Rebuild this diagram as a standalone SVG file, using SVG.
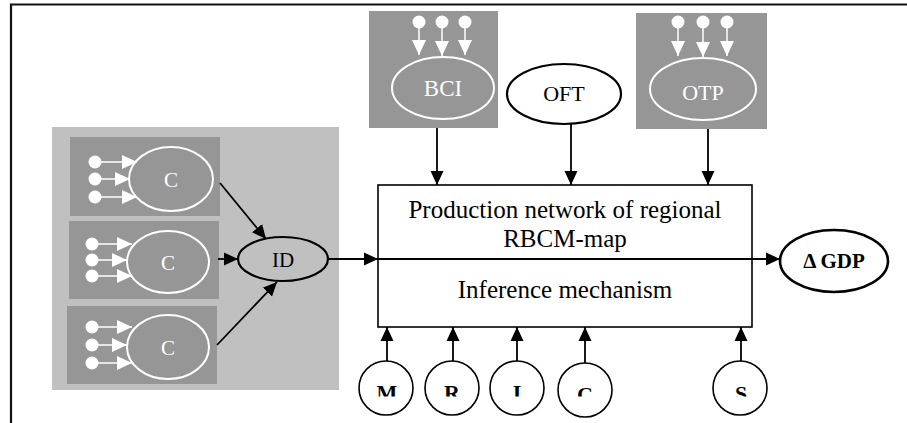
<svg xmlns="http://www.w3.org/2000/svg" width="907" height="423" viewBox="0 0 907 423">
<defs>
<style>
.t{font-family:"Liberation Serif","Times New Roman",serif}
.w{fill:#fff}
.dk{fill:#969696}
.we{fill:none;stroke:#fff;stroke-width:2}
.wl{stroke:#fff;stroke-width:1.5;fill:none}
.bl{stroke:#000;stroke-width:1.8;fill:none}
.be{fill:none;stroke:#000;stroke-width:2.2}
.bc{fill:#fff;stroke:#000;stroke-width:1.6}
</style>
<marker id="ab" markerUnits="userSpaceOnUse" markerWidth="14" markerHeight="14" viewBox="0 0 14 14" refX="14" refY="7" orient="auto"><path d="M0,0.5 L14,7 L0,13.5 z" fill="#000"/></marker>
<marker id="aw" markerUnits="userSpaceOnUse" markerWidth="15" markerHeight="14" viewBox="0 0 15 14" refX="15" refY="7" orient="auto"><path d="M0,0 L15,7 L0,14 z" fill="#fff"/></marker>
<clipPath id="cut"><rect x="340" y="360" width="450" height="36.5"/></clipPath>
</defs>
<rect width="907" height="423" fill="#fff"/>
<g id="frame"><path d="M11,423 V4.5 H907" fill="none" stroke="#111" stroke-width="2.2"/></g>

<g id="panel"><rect x="52" y="127" width="287" height="263" fill="#c0c0c0"/></g>

<g id="c1">
<rect class="dk" x="70" y="137" width="150" height="79"/>
<ellipse class="we" cx="171" cy="179" rx="42" ry="32"/>
<text class="t w" x="171" y="187" font-size="21" text-anchor="middle">C</text>
<circle class="w" cx="95" cy="162" r="6.5"/><circle class="w" cx="95" cy="179" r="6.5"/><circle class="w" cx="95" cy="197" r="6.5"/>
<path class="wl" d="M99,162 H137" marker-end="url(#aw)"/><path class="wl" d="M99,179 H130" marker-end="url(#aw)"/><path class="wl" d="M99,197 H137" marker-end="url(#aw)"/>
</g>
<g id="c2">
<rect class="dk" x="69" y="221" width="150" height="78"/>
<ellipse class="we" cx="168" cy="262" rx="41" ry="31"/>
<text class="t w" x="168" y="270" font-size="21" text-anchor="middle">C</text>
<circle class="w" cx="92" cy="244" r="6.5"/><circle class="w" cx="92" cy="260" r="6.5"/><circle class="w" cx="92" cy="276" r="6.5"/>
<path class="wl" d="M96,244 H132" marker-end="url(#aw)"/><path class="wl" d="M96,260 H127" marker-end="url(#aw)"/><path class="wl" d="M96,276 H132" marker-end="url(#aw)"/>
</g>
<g id="c3">
<rect class="dk" x="67" y="306" width="150" height="78"/>
<ellipse class="we" cx="168" cy="347" rx="41" ry="32"/>
<text class="t w" x="168" y="355" font-size="21" text-anchor="middle">C</text>
<circle class="w" cx="92" cy="327" r="6.5"/><circle class="w" cx="92" cy="345" r="6.5"/><circle class="w" cx="92" cy="363" r="6.5"/>
<path class="wl" d="M96,327 H132" marker-end="url(#aw)"/><path class="wl" d="M96,345 H127" marker-end="url(#aw)"/><path class="wl" d="M96,363 H132" marker-end="url(#aw)"/>
</g>

<g id="id">
<ellipse class="be" cx="283" cy="259" rx="45" ry="22"/>
<text class="t" x="283" y="267" font-size="21" text-anchor="middle">ID</text>
</g>

<g id="bci">
<rect class="dk" x="369" y="11" width="129" height="117"/>
<ellipse class="we" cx="443" cy="88" rx="51" ry="31"/>
<text class="t w" x="443" y="96" font-size="23" text-anchor="middle">BCI</text>
<circle class="w" cx="419" cy="22" r="6.5"/><circle class="w" cx="442" cy="22" r="6.5"/><circle class="w" cx="465" cy="22" r="6.5"/>
<path class="wl" d="M419,26 V55" marker-end="url(#aw)"/><path class="wl" d="M442,26 V56" marker-end="url(#aw)"/><path class="wl" d="M465,26 V55" marker-end="url(#aw)"/>
</g>

<g id="oft">
<ellipse class="be" cx="564" cy="94" rx="57" ry="30"/>
<text class="t" x="564" y="101" font-size="22" text-anchor="middle">OFT</text>
</g>

<g id="otp">
<rect class="dk" x="636" y="13" width="131" height="116"/>
<ellipse class="we" cx="703" cy="89" rx="53" ry="31"/>
<text class="t w" x="703" y="100" font-size="22" text-anchor="middle">OTP</text>
<circle class="w" cx="678" cy="22" r="6.5"/><circle class="w" cx="703" cy="22" r="6.5"/><circle class="w" cx="727" cy="22" r="6.5"/>
<path class="wl" d="M678,26 V56" marker-end="url(#aw)"/><path class="wl" d="M703,26 V57" marker-end="url(#aw)"/><path class="wl" d="M727,26 V56" marker-end="url(#aw)"/>
</g>

<g id="main">
<rect x="378" y="185" width="374" height="142" fill="#fff" stroke="#000" stroke-width="1.6"/>
<text class="t" x="565" y="218" font-size="25" text-anchor="middle">Production network of regional</text>
<text class="t" x="565" y="247" font-size="25" text-anchor="middle">RBCM-map</text>
<text class="t" x="565" y="298" font-size="25" text-anchor="middle">Inference mechanism</text>
</g>

<g id="gdp">
<ellipse cx="834" cy="261" rx="54" ry="31" fill="#fff" stroke="#000" stroke-width="2.6"/>
<text class="t" x="834" y="268" font-size="21" font-weight="bold" text-anchor="middle">Δ GDP</text>
</g>

<g id="inputs">
<circle class="bc" cx="386" cy="388" r="27"/>
<circle class="bc" cx="452" cy="388" r="27"/>
<circle class="bc" cx="517" cy="388" r="27"/>
<circle class="bc" cx="585" cy="390" r="27"/>
<circle class="bc" cx="740" cy="388" r="27"/>
<g clip-path="url(#cut)" class="t" font-size="22" font-weight="bold" text-anchor="middle">
<text x="387" y="400">M</text>
<text x="452" y="400">R</text>
<text x="517" y="400">I</text>
<text x="585" y="402">C</text>
<text x="741" y="401">S</text>
</g>
</g>

<g id="connectors">
<path class="bl" d="M220,183 L266,239" marker-end="url(#ab)"/>
<path class="bl" d="M218,259 H238" marker-end="url(#ab)"/>
<path class="bl" d="M217,345 L277,282" marker-end="url(#ab)"/>
<path class="bl" d="M328,259 H378" marker-end="url(#ab)"/>
<path class="bl" d="M378,259 H780" marker-end="url(#ab)"/>
<path class="bl" d="M437,128 V185" marker-end="url(#ab)"/>
<path class="bl" d="M571,124 V185" marker-end="url(#ab)"/>
<path class="bl" d="M708,129 V185" marker-end="url(#ab)"/>
<path class="bl" d="M387,361 V327" marker-end="url(#ab)"/>
<path class="bl" d="M453,361 V327" marker-end="url(#ab)"/>
<path class="bl" d="M517,361 V327" marker-end="url(#ab)"/>
<path class="bl" d="M585,363 V327" marker-end="url(#ab)"/>
<path class="bl" d="M741,361 V327" marker-end="url(#ab)"/>
</g>
</svg>
